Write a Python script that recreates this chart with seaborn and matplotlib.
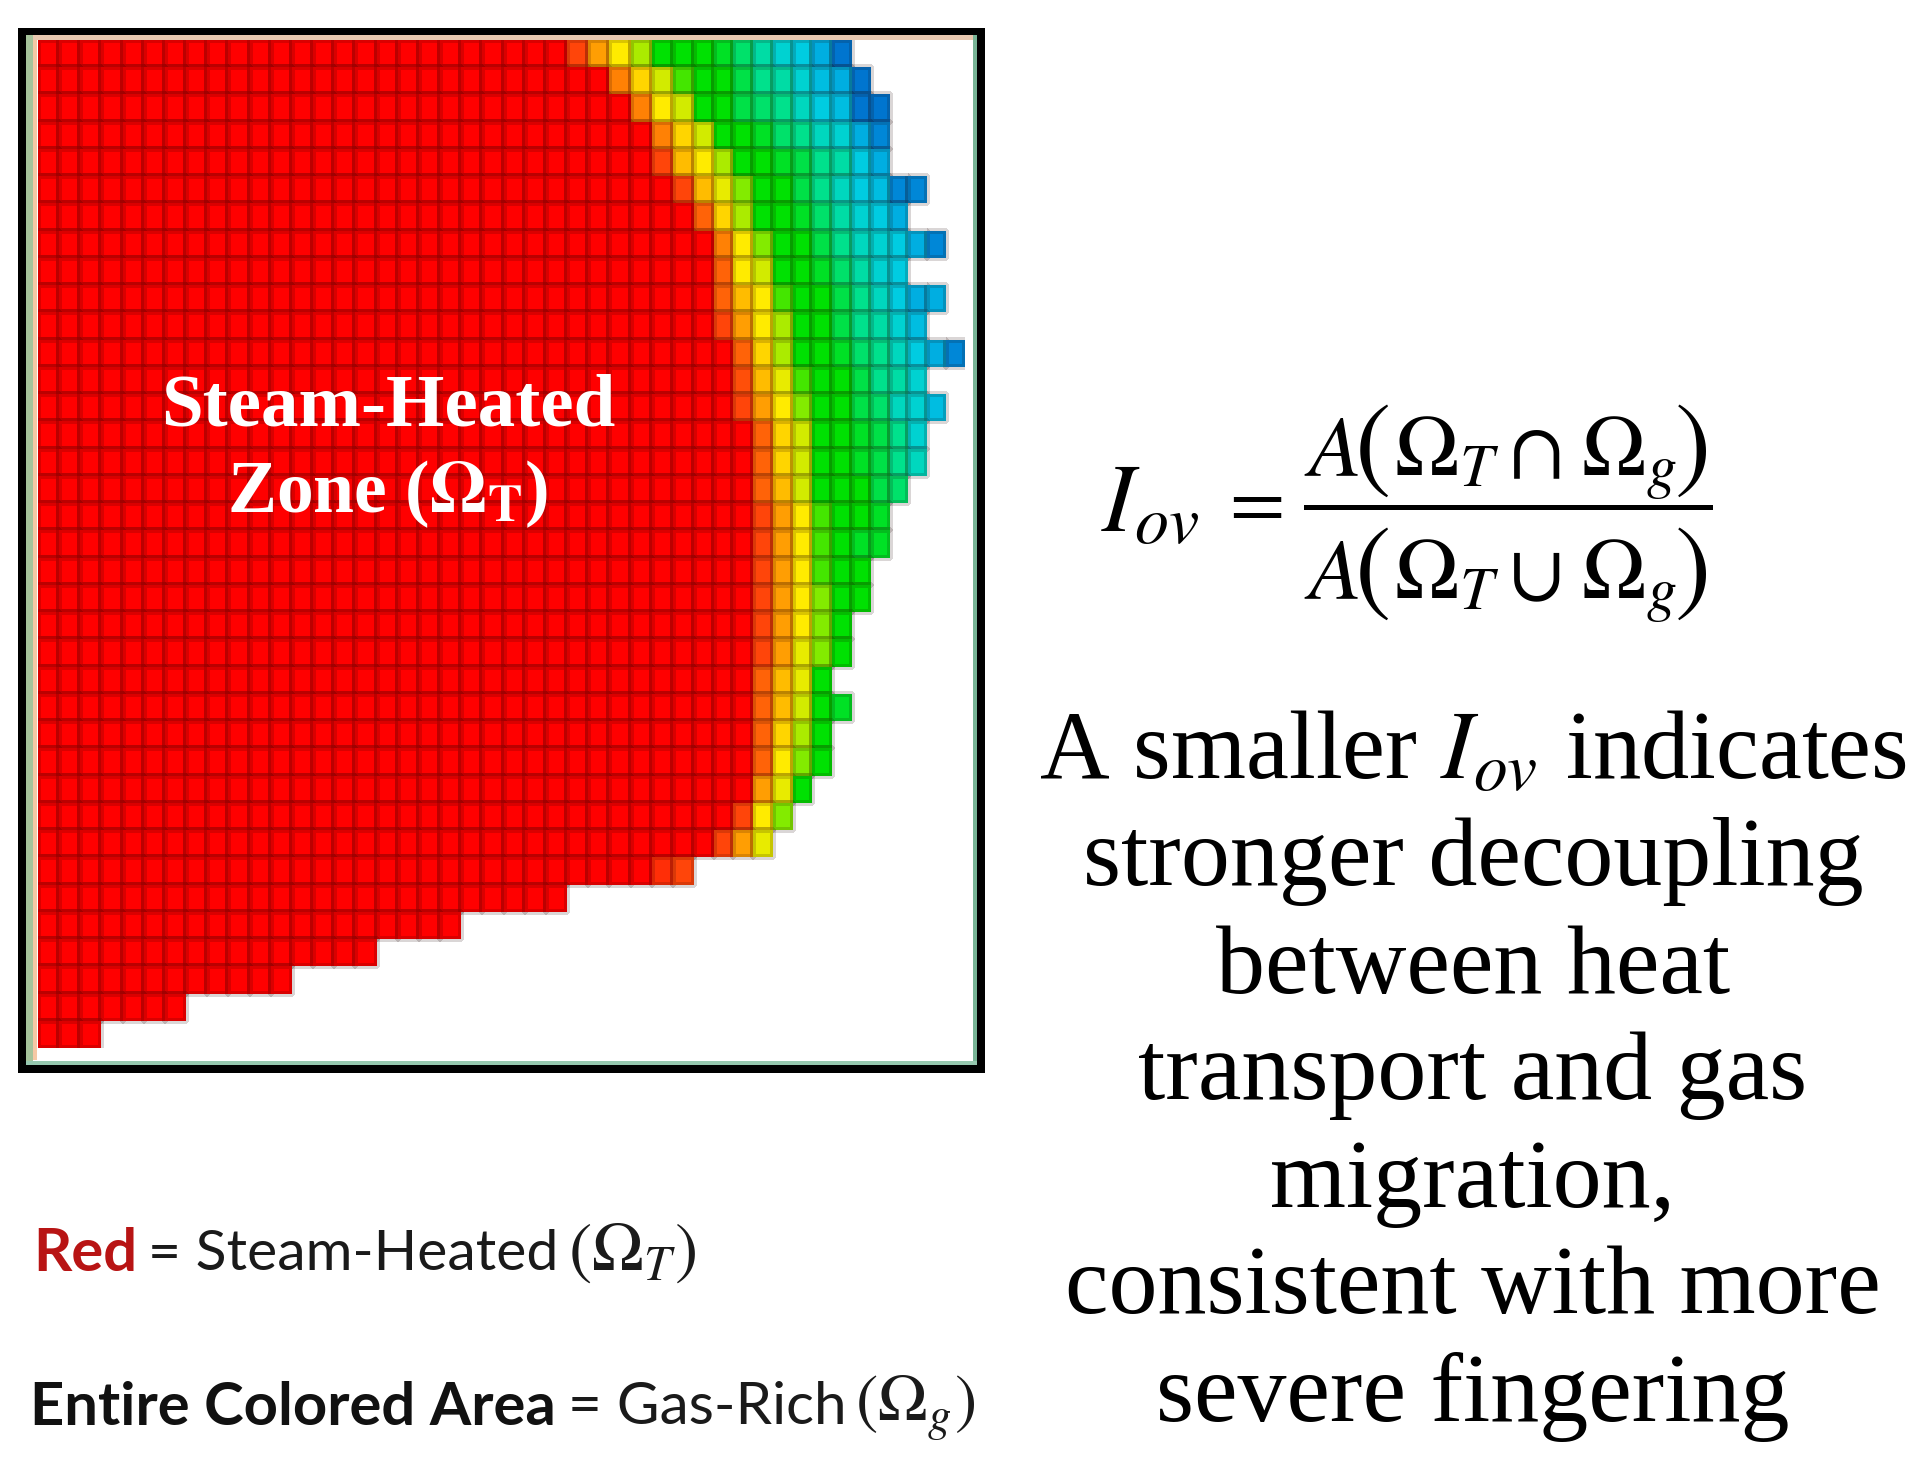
import numpy as np
import pandas as pd
import matplotlib.pyplot as plt
import seaborn as sns
from matplotlib.colors import LinearSegmentedColormap
from matplotlib.patches import Rectangle

# number of coloured cells in each grid row (top to bottom)
row_lengths = [39, 40, 41, 41, 41, 43, 42, 44, 42, 44, 43, 45, 43, 44, 43, 43, 42, 41, 41,
               40, 40, 39, 39, 38, 39, 38, 38, 37, 36, 35, 31, 25, 20, 16, 12, 7, 3]

# values at the right end of each row, everything before them is plain red (0)
row_tails = [
    [1, 2.5, 4, 5.5, 7, 7, 7, 7.5, 8.5, 9.5, 10.5, 11, 12, 13.5],
    [2, 3.5, 5, 6.5, 7, 7, 8, 9, 9.5, 10.5, 11.5, 12, 13.5],
    [2, 4, 5, 7, 7, 8, 8.5, 9, 10, 11, 11.5, 13.5, 13.5],
    [2, 3.5, 5, 7, 7, 7.5, 8.5, 9, 10, 10.5, 12, 13],
    [1, 3, 4, 5.5, 7, 7, 7.5, 8, 9, 9.5, 11, 12],
    [1, 3, 4.5, 6, 7, 7, 8, 9, 10, 11, 11.5, 13, 13],
    [1.5, 3.5, 5.5, 7, 7, 7.5, 8.5, 9.5, 10.5, 11, 12],
    [2, 4, 6, 7, 7, 8, 9, 10, 10.5, 11, 12, 13],
    [1.5, 4, 5, 7, 7, 7.5, 8.5, 9.5, 10.5, 11],
    [1.5, 3, 4, 6.5, 7, 7, 8, 9, 10, 11, 12, 12],
    [1, 2.5, 4, 5.5, 7, 7, 8, 9, 9.5, 10.5, 11.5],
    [1.5, 3.5, 5.5, 7, 7, 7.5, 8.5, 9, 10, 11, 12, 13],
    [1.2, 3, 4.5, 6.5, 7, 7, 8, 9, 9.5, 10.5],
    [1, 2.5, 4, 6, 7, 7, 8, 8.5, 10, 10.5, 11.5],
    [1.5, 3.5, 5, 7, 7, 7.5, 8, 9, 10.5],
    [1.5, 3.5, 5, 7, 7, 7.5, 8, 9, 10],
    [1.5, 3, 5, 7, 7, 7, 8, 8.5],
    [1, 2.5, 4, 6.5, 7, 7, 7.5],
    [1, 2.5, 4, 6.5, 7, 7.5, 7.5],
    [1, 2.5, 4, 6.5, 7, 7],
    [1, 2.5, 4, 6, 7, 7],
    [1, 2.5, 4, 6, 7],
    [1, 2.5, 4.5, 6, 7],
    [1.5, 3, 4.5, 7],
    [1.5, 3, 5, 7, 7.5],
    [1.5, 3.5, 5.5, 7],
    [1.5, 4, 6, 7],
    [2.5, 4.5, 7],
    [1, 4, 6],
    [1, 2.5, 4.5],
    [0.7, 1],
    [], [], [], [], [], [],
]

level_colors = ['#ff0000', '#ff460a', '#ff8205', '#ffbe00', '#ffeb00', '#d2eb00', '#82eb00', '#00e100',
                '#00e146', '#00e18c', '#00d7be', '#00cde1', '#00afe1', '#0087d7', '#0064c8']

body_lines = ['A smaller $I_{ov}$ indicates', 'stronger decoupling', 'between heat',
              'transport and gas', 'migration,', 'consistent with more', 'severe fingering']

# columns get a bit narrower to the right in the picture
col_knots = [0, 31, 39, 45]
px_knots = [38, 694, 852, 965]

W, H = 1928, 1472
n_cols = 45

grid = np.full((len(row_lengths), n_cols), np.nan)
for r, (length, tail) in enumerate(zip(row_lengths, row_tails)):
    grid[r, :length] = 0
    if tail:
        grid[r, length - len(tail):length] = tail
df = pd.DataFrame(grid)

sns.set_theme(style="white")
plt.rcParams['font.family'] = ['Liberation Serif', 'DejaVu Sans']
plt.rcParams['mathtext.fontset'] = 'stix'

fig = plt.figure(figsize=(W / 100, H / 100), dpi=100, facecolor='white')


def px_box(x0, y0, x1, y1):
    return [x0 / W, 1 - y1 / H, (x1 - x0) / W, (y1 - y0) / H]


def band(x0, y0, x1, y1, color):
    b = px_box(x0, y0, x1, y1)
    fig.add_artist(Rectangle((b[0], b[1]), b[2], b[3], transform=fig.transFigure, color=color, lw=0))


def label(x, y, s, **kw):
    kw.setdefault('ha', 'center')
    kw.setdefault('va', 'center')
    return fig.text(x / W, 1 - y / H, s, **kw)


# frame of the picture
band(18, 28, 985, 1073, 'black')
band(26, 35, 977, 1065, 'white')
band(26, 35, 33, 1062, '#a6c39b')
band(33, 37, 37, 1060, '#f5c8a5')
band(33, 35, 977, 40, '#e8c8b0')
band(973, 35, 977, 1065, '#78b496')
band(26, 1061, 977, 1065, '#96c8af')

ax = fig.add_axes(px_box(38, 40, 965, 1048))
ax.set_zorder(2)
cmap = LinearSegmentedColormap.from_list('steam', level_colors)
sns.heatmap(df, ax=ax, cmap=cmap, vmin=0, vmax=14, cbar=False, xticklabels=False, yticklabels=False,
            linewidths=3.2, linecolor=(0.1, 0, 0, 0.16))

# no cell borders where there is no data
mesh = ax.collections[0]
edges = np.tile((0.1, 0, 0, 0.16), (grid.size, 1))
edges[np.isnan(grid).ravel(), 3] = 0
mesh.set_edgecolor(edges)


def col_to_px(c):
    return np.interp(c, col_knots, px_knots)


def px_to_col(p):
    return np.interp(p, px_knots, col_knots)


ax.set_xscale('function', functions=(col_to_px, px_to_col))
ax.set_xlim(0, n_cols)
ax.axis('off')

# labels on top of the map
label(388, 407, 'Steam-Heated', color='white', fontsize=54, fontweight='bold')
label(388, 494, r'Zone ($\mathbf{\Omega}_{\mathbf{T}}$)', color='white', fontsize=53, fontweight='bold')

# overlap index equation, built from pieces because of the tall brackets
label(1101, 531, r'$I_{ov}$', fontsize=70, ha='left', va='baseline', color='black')
label(1250, 507, r'$=$', fontsize=58, color='black')
band(1304, 505, 1713, 510, 'black')
for base, sign in [(476, r'$\cap$'), (599, r'$\cup$')]:
    label(1304, base, r'$A$', fontsize=62, ha='left', va='baseline', color='black')
    label(1373, base + 2, '(', family='STIXGeneral', fontsize=78, va='baseline', color='black')
    label(1394, base, r'$\Omega_T$', fontsize=62, ha='left', va='baseline', color='black')
    label(1535, base, sign, fontsize=62, ha='center', va='baseline', color='black')
    label(1581, base, r'$\Omega_g$', fontsize=62, ha='left', va='baseline', color='black')
    label(1693, base + 2, ')', family='STIXGeneral', fontsize=78, va='baseline', color='black')

# body text
for line, y, size in zip(body_lines, [755, 862, 970, 1075, 1183, 1290, 1397],
                         [69.5, 70.5, 70.5, 70.5, 70.5, 70.5, 70.5]):
    label(1473, y, line, fontsize=size, color='black')

# legend lines
label(33, 1254, 'Red', family='Lato', fontweight='bold', fontsize=43, color='#b81414', ha='left')
label(148, 1254, '= Steam-Heated', family='Lato', fontsize=41, color='#1a1a1a', ha='left')
label(568, 1254, r'$(\Omega_T)$', fontsize=50, color='#1a1a1a', ha='left')
label(30, 1408, 'Entire Colored Area', family='Lato', fontweight='bold', fontsize=43, color='#111111', ha='left')
label(568, 1408, '= Gas-Rich', family='Lato', fontsize=42, color='#1a1a1a', ha='left')
label(855, 1408, r'$(\Omega_g)$', fontsize=48, color='#1a1a1a', ha='left')

fig.savefig('out.png', dpi=100, facecolor='white')
